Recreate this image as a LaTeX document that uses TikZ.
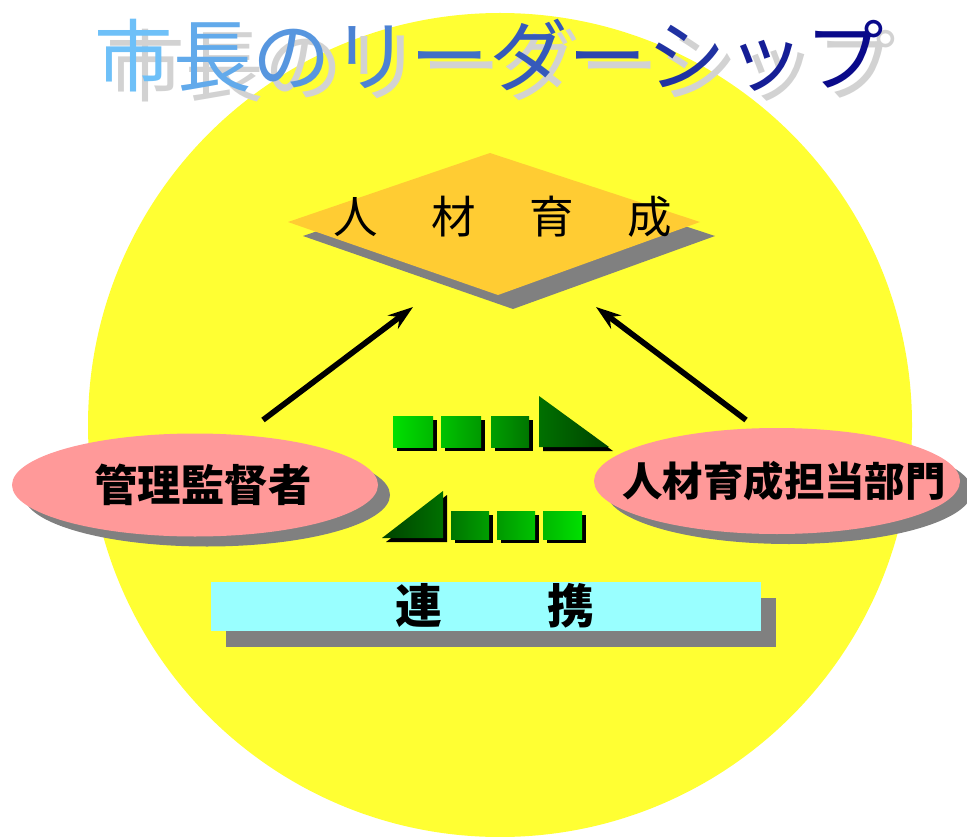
\documentclass[tikz,border=0pt]{standalone}
\usepackage{fontspec}
\setmainfont{Noto Sans CJK JP}
\usetikzlibrary{shapes.geometric,shadows,arrows.meta}
\definecolor{sun}{HTML}{FFFF33}
\definecolor{kite}{HTML}{FFCC33}
\definecolor{rose}{HTML}{FF9999}
\definecolor{aqua}{HTML}{99FFFF}
\definecolor{dropgray}{HTML}{808080}
\definecolor{tlight}{HTML}{6EC0F8}
\definecolor{tdark}{HTML}{0A0A8A}

\begin{document}
\begin{tikzpicture}[x=0.3mm,y=-0.3mm,
  oval/.style={ellipse,fill=rose,inner sep=0pt,minimum width=366*0.3mm,
    drop shadow={shadow xshift=12*0.3mm,shadow yshift=-10*0.3mm,fill=dropgray,opacity=1}},
  band/.style={fill=aqua,inner sep=0pt,minimum width=550*0.3mm,minimum height=49*0.3mm,
    drop shadow={shadow xshift=15*0.3mm,shadow yshift=-16*0.3mm,fill=dropgray,opacity=1}},
  arr/.style={line width=1.7mm,-{Stealth[length=7.5mm,width=5mm]}},
  ttl/.style={anchor=base,inner sep=0pt,font=\fontsize{67}{67}\selectfont}]

\useasboundingbox (0,0) rectangle (967,837);

\fill[sun] (500,425) circle [radius=412];

% title
\foreach \ch [count=\i from 0] in {市,長,の,リ,ー,ダ,ー,シ,ッ,プ} {
  \node[ttl,text=gray!35] (ts\i) at (146+79*\i,96) {\ch};
}
\foreach \ch [count=\i from 0] in {市,長,の,リ,ー,ダ,ー,シ,ッ,プ} {
  \pgfmathtruncatemacro\pc{100-\i*100/9}
  \node[ttl,text=tlight!\pc!tdark] (t\i) at (134+79*\i,86) {\ch};
}

% diamond
\fill[dropgray] (303,236) -- (505,167) -- (715,236) -- (513,309) -- cycle;
\fill[kite] (288,222) -- (490,153) -- (700,222) -- (498,295) -- cycle;
\node[font=\fontsize{38}{38}\selectfont] (ikusei) at (503,217)
  {人\hspace{1.2em}材\hspace{1.2em}育\hspace{1.2em}成};

% arrows
\coordinate (l0) at (263,420);
\coordinate (l1) at (413,307);
\coordinate (r0) at (746,420);
\coordinate (r1) at (596,307);
\draw[arr] (l0) -- (l1);
\draw[arr] (r0) -- (r1);

% ellipses
\node[oval,minimum height=103*0.3mm,font=\bfseries\fontsize{37}{37}\selectfont] (kanri) at (195,485) {\makebox[0pt]{\hspace{4.8mm}管理監督者}};
\node[oval,minimum height=106*0.3mm,font=\bfseries\fontsize{34.5}{34.5}\selectfont] (tanto) at (777,481) {\makebox[0pt]{\hspace{4.2mm}人材育成担当部門}};

% green blocks
\fill[black] (397,420) rectangle (437,451);
\fill[black] (445,420) rectangle (485,451);
\fill[black] (495,420) rectangle (533,451);
\fill[black] (543,400) -- (543,451) -- (613,451) -- cycle;
\shade[left color=green!88!black,right color=green!72!black] (393,416) rectangle (433,447);
\shade[left color=green!76!black,right color=green!60!black] (441,416) rectangle (481,447);
\shade[left color=green!62!black,right color=green!46!black] (491,416) rectangle (529,447);
\shade[left color=green!44!black,right color=green!26!black] (539,396) -- (539,447) -- (609,447) -- cycle;

\fill[black] (386,542) -- (447,495) -- (447,542) -- cycle;
\fill[black] (455,515) rectangle (493,543);
\fill[black] (501,515) rectangle (539,543);
\fill[black] (547,515) rectangle (586,543);
\shade[left color=green!26!black,right color=green!44!black] (382,538) -- (443,491) -- (443,538) -- cycle;
\shade[left color=green!46!black,right color=green!62!black] (451,511) rectangle (489,539);
\shade[left color=green!60!black,right color=green!76!black] (497,511) rectangle (535,539);
\shade[left color=green!72!black,right color=green!88!black] (543,511) rectangle (582,539);

% band
\node[band] (obi) at (486,606.5) {};
\node[font=\bfseries\fontsize{40}{40}\selectfont] (renkei) at (495,606) {連\hspace{2.25em}携};

\end{tikzpicture}
\end{document}
